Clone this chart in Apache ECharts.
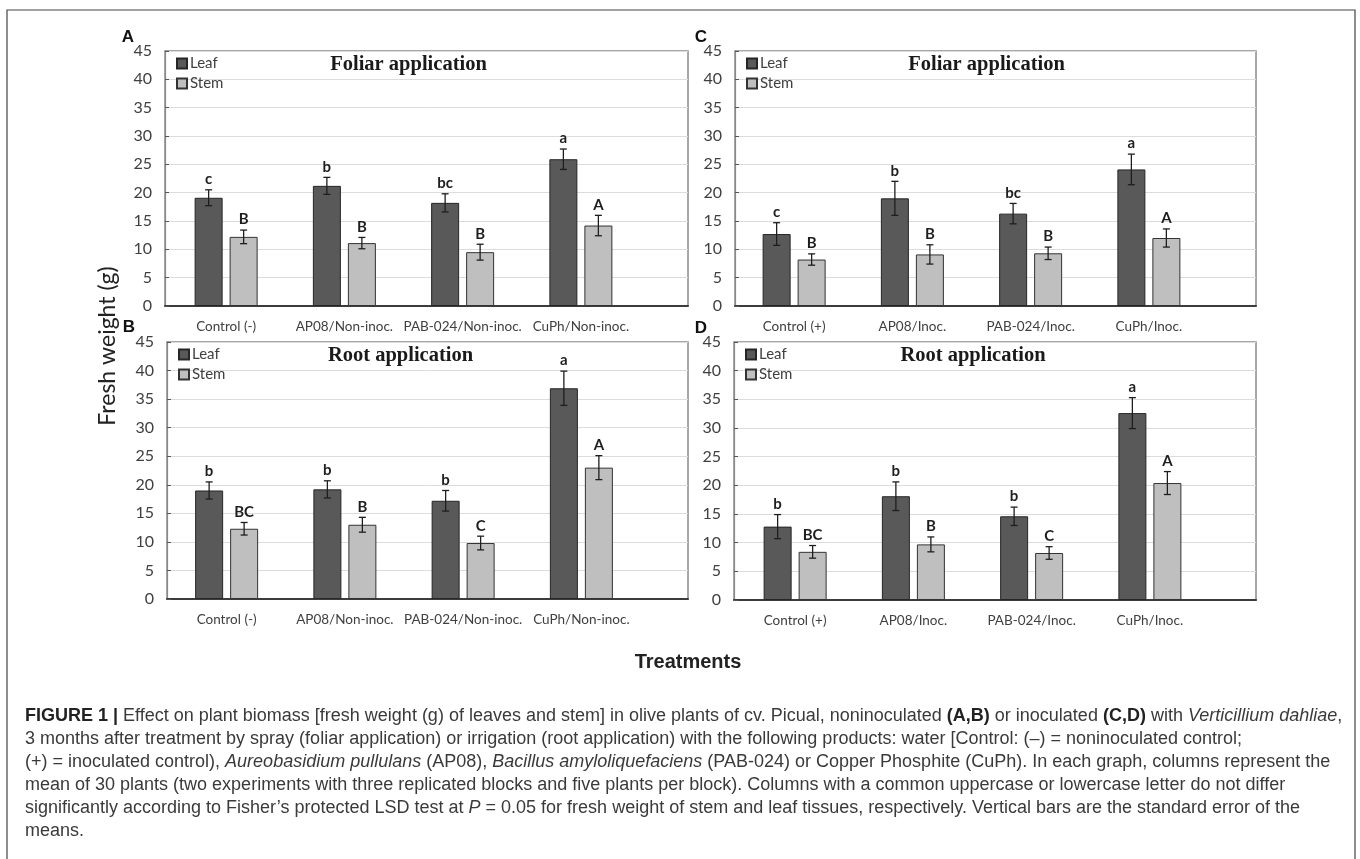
<!DOCTYPE html>
<html><head><meta charset="utf-8">
<script src="https://cdn.jsdelivr.net/npm/echarts@6/dist/echarts.min.js"></script>
<style>html,body{margin:0;padding:0;background:#fff}#c{width:1360px;height:859px}</style>
</head><body><div id="c"></div>
<script>
// ---------- data ----------
const catsNonInoc = ['Control (-)', 'AP08/Non-inoc.', 'PAB-024/Non-inoc.', 'CuPh/Non-inoc.'];
const catsInoc = ['Control (+)', 'AP08/Inoc.', 'PAB-024/Inoc.', 'CuPh/Inoc.'];
const seriesNames = ['Leaf', 'Stem'];
const titleFoliar = 'Foliar application';
const titleRoot = 'Root application';

// Panel A: foliar, non-inoculated
const aLeaf = [19.1, 21.2, 18.2, 25.9];
const aLeafSE = [1.4, 1.5, 1.6, 1.8];
const aStem = [12.2, 11.1, 9.5, 14.2];
const aStemSE = [1.2, 1.0, 1.4, 1.8];
const aLeafLetters = ['c', 'b', 'bc', 'a'];
const aStemLetters = ['B', 'B', 'B', 'A'];
// Panel B: root, non-inoculated
const bLeaf = [19.0, 19.2, 17.2, 36.9];
const bLeafSE = [1.5, 1.5, 1.8, 3.0];
const bStem = [12.3, 13.0, 9.8, 23.0];
const bStemSE = [1.1, 1.3, 1.2, 2.1];
const bLeafLetters = ['b', 'b', 'b', 'a'];
const bStemLetters = ['BC', 'B', 'C', 'A'];
// Panel C: foliar, inoculated
const cLeaf = [12.7, 19.0, 16.3, 24.1];
const cLeafSE = [2.0, 3.0, 1.8, 2.7];
const cStem = [8.2, 9.1, 9.3, 12.0];
const cStemSE = [1.0, 1.7, 1.1, 1.6];
const cLeafLetters = ['c', 'b', 'bc', 'a'];
const cStemLetters = ['B', 'B', 'B', 'A'];
// Panel D: root, inoculated
const dLeaf = [12.8, 18.1, 14.6, 32.6];
const dLeafSE = [2.1, 2.5, 1.6, 2.7];
const dStem = [8.4, 9.7, 8.2, 20.4];
const dStemSE = [1.1, 1.3, 1.1, 2.0];
const dLeafLetters = ['b', 'b', 'b', 'a'];
const dStemLetters = ['BC', 'B', 'C', 'A'];

const yMin = 0, yMax = 45, yStep = 5;
const yAxisTitle = 'Fresh weight (g)';
const xAxisTitle = 'Treatments';
const captionLines = [
  '{b|FIGURE 1 |} Effect on plant biomass [fresh weight (g) of leaves and stem] in olive plants of cv. Picual, noninoculated {b|(A,B)} or inoculated {b|(C,D)} with {i|Verticillium dahliae},',
  '3 months after treatment by spray (foliar application) or irrigation (root application) with the following products: water [Control: (\u2013) = noninoculated control;',
  '(+) = inoculated control), {i|Aureobasidium pullulans} (AP08), {i|Bacillus amyloliquefaciens} (PAB-024) or Copper Phosphite (CuPh). In each graph, columns represent the',
  'mean of 30 plants (two experiments with three replicated blocks and five plants per block). Columns with a common uppercase or lowercase letter do not differ',
  'significantly according to Fisher\u2019s protected LSD test at {i|P} = 0.05 for fresh weight of stem and leaf tissues, respectively. Vertical bars are the standard error of the',
  'means.'
];

// ---------- layout ----------
const panels = [
  {tag:'A', title:titleFoliar, cats:catsNonInoc, leaf:aLeaf, leafSE:aLeafSE, stem:aStem, stemSE:aStemSE, leafLet:aLeafLetters, stemLet:aStemLetters,
   frame:{l:165,t:51,w:523,h:255}, barL:167, titleX:408.5, tagX:128, tagY:37},
  {tag:'C', title:titleFoliar, cats:catsInoc, leaf:cLeaf, leafSE:cLeafSE, stem:cStem, stemSE:cStemSE, leafLet:cLeafLetters, stemLet:cStemLetters,
   frame:{l:735,t:51,w:521,h:255}, barL:735, titleX:986.5, tagX:701, tagY:37},
  {tag:'B', title:titleRoot, cats:catsNonInoc, leaf:bLeaf, leafSE:bLeafSE, stem:bStem, stemSE:bStemSE, leafLet:bLeafLetters, stemLet:bStemLetters,
   frame:{l:167,t:342,w:521,h:257}, barL:167.5, titleX:400.5, tagX:129, tagY:327},
  {tag:'D', title:titleRoot, cats:catsInoc, leaf:dLeaf, leafSE:dLeafSE, stem:dStem, stemSE:dStemSE, leafLet:dLeafLetters, stemLet:dStemLetters,
   frame:{l:734,t:342,w:522,h:258}, barL:736, titleX:973, tagX:701, tagY:328}
];
const barsW = 473;
const BAR_W = 28, BAR_GAP = 7;
const OFF = (BAR_W + BAR_GAP) / 2;

const grid = [], xAxis = [], yAxis = [], series = [], legend = [], graphic = [];

function errSeries(name, vals, ses, letters, offset, axisIdx) {
  return {
    type: 'custom', name: name + ' SE', xAxisIndex: axisIdx, yAxisIndex: axisIdx, z: 5,
    silent: true, legendHoverLink: false,
    data: vals.map((v, i) => [i, v, ses[i]]),
    renderItem: function (params, api) {
      const i = api.value(0), v = api.value(1), e = api.value(2);
      const top = api.coord([i, v + e]);
      const bot = api.coord([i, v - e]);
      const x = top[0] + offset;
      const st = {stroke: '#1e1e1e', lineWidth: 1.3};
      return {type: 'group', children: [
        {type: 'line', shape: {x1: x, y1: top[1], x2: x, y2: bot[1]}, style: st},
        {type: 'line', shape: {x1: x - 3.5, y1: top[1], x2: x + 3.5, y2: top[1]}, style: st},
        {type: 'line', shape: {x1: x - 3.5, y1: bot[1], x2: x + 3.5, y2: bot[1]}, style: st},
        {type: 'text', style: {text: letters[params.dataIndex], x: x, y: top[1] - 3,
          textAlign: 'center', textVerticalAlign: 'bottom',
          font: 'bold 15px Lato', fill: '#1e1e1e'}}
      ]};
    }
  };
}

panels.forEach((p, k) => {
  const bg = 2 * k, br = 2 * k + 1, f = p.frame;
  grid.push({left: f.l, top: f.t, width: f.w, height: f.h, show: true,
    borderColor: '#8a8a8a', borderWidth: 1.5, backgroundColor: '#fff'});
  grid.push({left: p.barL, top: f.t, width: barsW, height: f.h});
  xAxis.push({type: 'value', gridIndex: bg, min: 0, max: 1, axisLabel: {show: false},
    axisTick: {show: false}, splitLine: {show: false},
    axisLine: {show: true, lineStyle: {color: '#3c3c3c', width: 2}}});
  xAxis.push({type: 'category', gridIndex: br, data: p.cats,
    axisLine: {show: false}, axisTick: {show: false},
    axisLabel: {interval: 0, margin: 14, fontFamily: 'Lato', fontSize: 13.5, color: '#404040'}});
  yAxis.push({type: 'value', gridIndex: bg, min: yMin, max: yMax, interval: yStep,
    axisLine: {show: true, lineStyle: {color: '#8a8a8a', width: 1.2}},
    axisTick: {show: true, inside: true, length: 4, lineStyle: {color: '#555'}},
    axisLabel: {margin: 13, fontFamily: 'Lato', fontSize: 16, color: '#404040'},
    splitLine: {show: true, lineStyle: {color: '#dcdcdc', width: 1}}});
  yAxis.push({type: 'value', gridIndex: br, min: yMin, max: yMax, interval: yStep, show: false});
  series.push({type: 'bar', name: seriesNames[0], xAxisIndex: br, yAxisIndex: br, data: p.leaf,
    barWidth: BAR_W, barGap: (BAR_GAP / BAR_W * 100) + '%',
    itemStyle: {color: '#595959', borderColor: '#262626', borderWidth: 1}});
  series.push({type: 'bar', name: seriesNames[1], xAxisIndex: br, yAxisIndex: br, data: p.stem,
    barWidth: BAR_W, barGap: (BAR_GAP / BAR_W * 100) + '%',
    itemStyle: {color: '#bfbfbf', borderColor: '#333', borderWidth: 1}});
  series.push(errSeries(seriesNames[0], p.leaf, p.leafSE, p.leafLet, -OFF, br));
  series.push(errSeries(seriesNames[1], p.stem, p.stemSE, p.stemLet, OFF, br));
  legend.push({orient: 'vertical', left: f.l + 11, top: f.t + 5, padding: 0,
    itemWidth: 10, itemHeight: 10, itemGap: 5, icon: 'rect', selectedMode: false,
    data: seriesNames,
    textStyle: {fontFamily: 'Lato', fontSize: 15, color: '#404040', padding: [0, 0, 0, -2]}});
  graphic.push({type: 'text', x: p.titleX, y: f.t + 14, z: 10,
    style: {text: p.title, textAlign: 'center', textVerticalAlign: 'middle',
      font: 'bold 20.5px "Liberation Serif"', fill: '#1a1a1a'}});
  graphic.push({type: 'text', x: p.tagX, y: p.tagY, z: 10,
    style: {text: p.tag, textAlign: 'center', textVerticalAlign: 'middle',
      font: 'bold 17px "Liberation Sans"', fill: '#111'}});
});

// axis titles
graphic.push({type: 'text', x: 108, y: 346, rotation: Math.PI / 2, z: 10,
  style: {text: yAxisTitle, textAlign: 'center', textVerticalAlign: 'middle',
    font: '23px Lato', fill: '#222'}});
graphic.push({type: 'text', x: 688, y: 662, z: 10,
  style: {text: xAxisTitle, textAlign: 'center', textVerticalAlign: 'middle',
    font: 'bold 20px "Liberation Sans"', fill: '#222'}});
// caption
captionLines.forEach((t, i) => {
  graphic.push({type: 'text', x: 25, y: 716 + i * 23, z: 10,
    style: {text: t, textAlign: 'left', textVerticalAlign: 'middle',
      font: '18px "Liberation Sans"', fill: '#3a3a3a',
      rich: {
        b: {fontWeight: 'bold', fontSize: 18, fontFamily: 'Liberation Sans', fill: '#222'},
        i: {fontStyle: 'italic', fontSize: 18, fontFamily: 'Liberation Sans', fill: '#3a3a3a'}
      }}});
});
// outer figure border
graphic.push({type: 'rect', z: 0, shape: {x: 7, y: 10, width: 1348, height: 900},
  style: {fill: 'none', stroke: '#444', lineWidth: 1.2}});

const chart = echarts.init(document.getElementById('c'), null, {renderer: 'canvas'});
chart.setOption({
  animation: false,
  backgroundColor: '#fff',
  grid, xAxis, yAxis, series, legend, graphic
});
</script>
</body></html>
